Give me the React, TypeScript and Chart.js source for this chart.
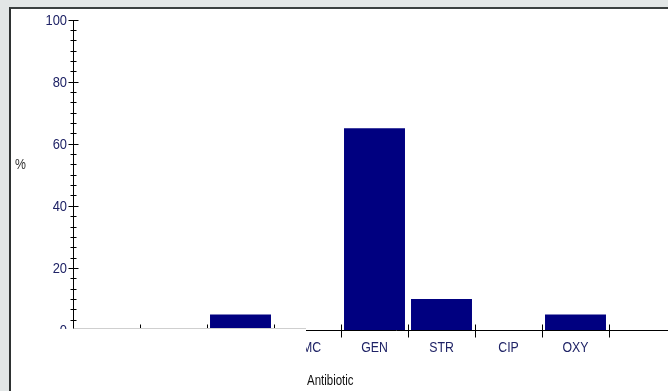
import React, { useEffect, useRef } from 'react';
import { Chart, registerables } from 'chart.js';

Chart.register(...registerables);

// ---- data ----
const categories = ['', '', '', 'AMC', 'GEN', 'STR', 'CIP', 'OXY', ''];
const percentResistant = [0, 0, 5, 0, 65, 10, 0, 5, 0];
const yMin = 0;
const yMax = 100;
const yMajorStep = 20;
const yMinorPerMajor = 6;
const yAxisTitle = '%';
const xAxisTitle = 'Antibiotic';

const FONT = "'Liberation Sans', Arial, sans-serif";
const TICK_COLOR = '#1f2366';
const BAR_COLOR = '#000080';
const CANVAS_W = 720;
const CANVAS_H = 391;

function narrowText(
  ctx: CanvasRenderingContext2D,
  text: string,
  x: number,
  y: number,
  size: number,
  squeeze: number,
  align: CanvasTextAlign,
  color: string
) {
  ctx.save();
  ctx.translate(x, y);
  ctx.scale(squeeze, 1);
  ctx.font = `${size}px ${FONT}`;
  ctx.fillStyle = color;
  ctx.textAlign = align;
  ctx.textBaseline = 'middle';
  ctx.fillText(text, 0, 0);
  ctx.restore();
}

export default function App() {
  const ref = useRef<HTMLCanvasElement>(null);

  useEffect(() => {
    const canvas = ref.current!;
    const axesPlugin = {
      id: 'customAxes',
      afterDraw(chart: any) {
        const ctx = chart.ctx as CanvasRenderingContext2D;
        const xs = chart.scales.x;
        const ys = chart.scales.y;
        const { left, bottom } = chart.chartArea;
        const ax = Math.round(left) + 0.5;
        const ay = Math.round(bottom) + 0.5;
        ctx.save();
        ctx.strokeStyle = '#000';
        ctx.lineWidth = 1;

        // y axis line
        ctx.beginPath();
        ctx.moveTo(ax, Math.round(ys.getPixelForValue(yMax)) + 0.5);
        ctx.lineTo(ax, ay);
        ctx.stroke();

        // y ticks (major + minor) and labels
        const minorStep = yMajorStep / yMinorPerMajor;
        const n = Math.round((yMax - yMin) / minorStep);
        for (let i = 0; i <= n; i++) {
          const v = yMin + i * minorStep;
          const py = Math.round(ys.getPixelForValue(v)) + 0.5;
          const major = i % yMinorPerMajor === 0;
          ctx.beginPath();
          ctx.moveTo(ax - (major ? 5 : 3), py);
          ctx.lineTo(ax + (major ? 5 : 3), py);
          ctx.stroke();
          if (major) {
            narrowText(ctx, String(Math.round(v)), ax - 6.5, py + 0.5, 15, 0.86, 'right', TICK_COLOR);
          }
        }

        // x axis line
        ctx.beginPath();
        ctx.moveTo(ax, ay);
        ctx.lineTo(chart.width, ay);
        ctx.stroke();

        // x ticks at category boundaries
        for (let i = 1; i < categories.length + 1; i++) {
          const px = Math.round(xs.getPixelForValue(i - 0.5)) + 0.5;
          ctx.beginPath();
          ctx.moveTo(px, ay - 6);
          ctx.lineTo(px, ay + 7);
          ctx.stroke();
        }

        // x labels
        categories.forEach((c, i) => {
          if (!c) return;
          narrowText(ctx, c, xs.getPixelForValue(i), ay + 17, 15, 0.82, 'center', TICK_COLOR);
        });

        // white cover over lower-left part
        const cutX = Math.round(xs.getPixelForValue(3)) - 2;
        ctx.fillStyle = '#ffffff';
        ctx.fillRect(12, ay - 1.5, cutX - 12, CANVAS_H);

        // light baseline on the covered part
        ctx.strokeStyle = '#cfcfcf';
        ctx.beginPath();
        ctx.moveTo(ax, ay - 2);
        ctx.lineTo(cutX, ay - 2);
        ctx.stroke();

        // titles
        narrowText(ctx, yAxisTitle, 15, 165, 15, 0.82, 'left', '#333');
        narrowText(ctx, xAxisTitle, cutX + 1, 381, 14, 0.82, 'left', '#111');
        ctx.restore();
      },
    };

    const chart = new Chart(canvas, {
      type: 'bar',
      data: {
        labels: categories,
        datasets: [
          {
            data: percentResistant,
            backgroundColor: BAR_COLOR,
            borderWidth: 0,
            barPercentage: 0.91,
            categoryPercentage: 1,
          },
        ],
      },
      options: {
        responsive: false,
        animation: false,
        devicePixelRatio: 1,
        layout: { padding: { left: 0, right: CANVAS_W - 676, top: 19.5, bottom: 0 } },
        plugins: { legend: { display: false }, tooltip: { enabled: false }, title: { display: false } },
        scales: {
          x: {
            type: 'category',
            grid: { display: false, drawTicks: false, tickLength: 0 },
            border: { display: false },
            ticks: { display: false, autoSkip: false },
            afterFit(s: any) {
              s.height = 61;
            },
          },
          y: {
            min: yMin,
            max: yMax,
            grid: { display: false, drawTicks: false, tickLength: 0 },
            border: { display: false },
            ticks: { display: false, stepSize: yMajorStep },
            afterFit(s: any) {
              s.width = 73;
            },
          },
        },
      },
      plugins: [axesPlugin],
    });
    return () => chart.destroy();
  }, []);

  return (
    <div
      style={{
        position: 'fixed',
        left: 0,
        top: 0,
        width: 668,
        height: 391,
        overflow: 'hidden',
        background: '#e2e6e6',
      }}
    >
      <div
        style={{
          position: 'absolute',
          left: 9,
          top: 7,
          width: 720,
          height: 420,
          background: '#ffffff',
          borderLeft: '2px solid #2e3232',
          borderTop: '2px solid #3a3f3f',
        }}
      />
      <canvas
        ref={ref}
        width={CANVAS_W}
        height={CANVAS_H}
        style={{ position: 'absolute', left: 0, top: 0, width: CANVAS_W, height: CANVAS_H }}
      />
    </div>
  );
}
